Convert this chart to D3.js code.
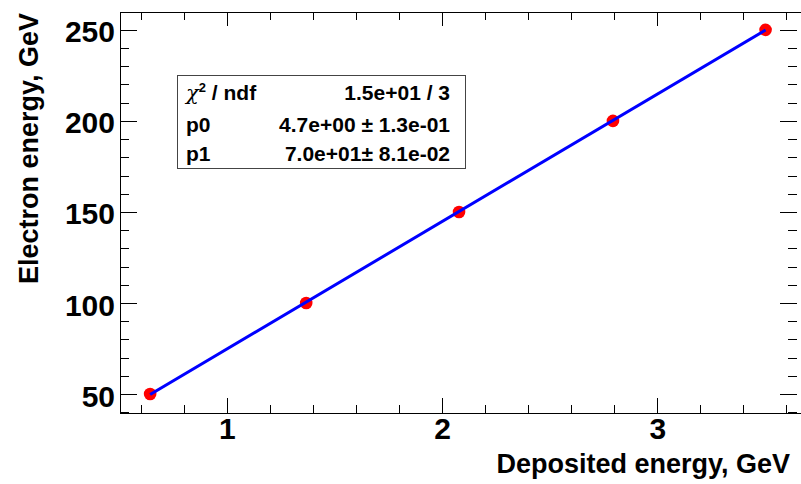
<!DOCTYPE html>
<html>
<head>
<meta charset="utf-8">
<script src="https://cdn.jsdelivr.net/npm/d3@7"></script>
<style>
  body { margin: 0; background: #fff; }
  svg { display: block; font-family: "Liberation Sans", Arial, sans-serif; font-weight: bold; }
</style>
</head>
<body>
<div id="chart"></div>
<script>
// measured points: deposited energy (GeV) vs electron energy (GeV)
const depositedEnergy = [0.644, 1.369, 2.079, 2.794, 3.503]
const electronEnergy = [50, 100, 150, 200, 250]

// fit pol1 parameters
const fitP0 = 4.7
const fitP1 = 70.0

const statsRows = [
  { name: "ndf", value: "1.5e+01 / 3" },
  { name: "p0", value: "4.7e+00 \u00b1 1.3e-01" },
  { name: "p1", value: "7.0e+01\u00b1 8.1e-02" }
]

const xMajor = [1, 2, 3]
const xMinor = d3.range(0.6, 3.61, 0.2)
const yMajor = [50, 100, 150, 200, 250]
const yMinor = d3.range(40, 261, 10)

const WIDTH = 801
const HEIGHT = 484
const margin = { top: 12, right: 4, bottom: 71, left: 120 }

const drawChart = () => {
  const svg = d3
    .select("#chart")
    .append("svg")
      .attr("width", WIDTH)
      .attr("height", HEIGHT)

  const x = d3.scaleLinear()
    .domain([0.504, 3.649])
    .range([margin.left, WIDTH - margin.right])

  const y = d3.scaleLinear()
    .domain([39.6, 259.8])
    .range([HEIGHT - margin.bottom, margin.top])

  const bottom = HEIGHT - margin.bottom
  const right = WIDTH - margin.right

  // frame lines
  const frame = svg.append("g")
    .attr("stroke", "#000")
    .attr("stroke-width", 1)
    .attr("shape-rendering", "crispEdges")
  frame.append("line")
    .attr("x1", margin.left).attr("x2", WIDTH)
    .attr("y1", bottom + 0.5).attr("y2", bottom + 0.5)
  frame.append("line")
    .attr("x1", margin.left).attr("x2", WIDTH)
    .attr("y1", margin.top + 0.5).attr("y2", margin.top + 0.5)
  frame.append("line")
    .attr("x1", margin.left + 0.5).attr("x2", margin.left + 0.5)
    .attr("y1", margin.top).attr("y2", bottom)

  const styleAxis = (g) => {
    g.select(".domain").remove()
    g.selectAll("line").attr("stroke", "#000").attr("shape-rendering", "crispEdges")
    g.selectAll("text")
      .attr("fill", "#000")
      .style("font-size", "30px")
      .style("font-weight", "bold")
      .style("font-family", '"Liberation Sans", Arial, sans-serif')
  }

  // bottom axis
  svg.append("g")
    .attr("transform", `translate(0,${bottom})`)
    .call(d3.axisBottom(x).tickValues(xMinor).tickSize(-8).tickFormat(""))
    .call(styleAxis)
  svg.append("g")
    .attr("transform", `translate(0,${bottom})`)
    .call(d3.axisBottom(x).tickValues(xMajor).tickSize(-15).tickPadding(5).tickFormat(d3.format("d")))
    .call(styleAxis)

  // top axis ticks
  svg.append("g")
    .attr("transform", `translate(0,${margin.top})`)
    .call(d3.axisTop(x).tickValues(xMinor).tickSize(-8).tickFormat(""))
    .call(styleAxis)
  svg.append("g")
    .attr("transform", `translate(0,${margin.top})`)
    .call(d3.axisTop(x).tickValues(xMajor).tickSize(-14).tickFormat(""))
    .call(styleAxis)

  // left axis
  svg.append("g")
    .attr("transform", `translate(${margin.left},0)`)
    .call(d3.axisLeft(y).tickValues(yMinor).tickSize(-8.5).tickFormat(""))
    .call(styleAxis)
  svg.append("g")
    .attr("transform", `translate(${margin.left},0)`)
    .call(d3.axisLeft(y).tickValues(yMajor).tickSize(-17).tickPadding(5).tickFormat(d3.format("d")))
    .call(styleAxis)
    .call((g) => g.selectAll("text").attr("dy", "0.4em"))

  // right axis ticks
  svg.append("g")
    .attr("transform", `translate(${right},0)`)
    .call(d3.axisRight(y).tickValues(yMinor).tickSize(-9).tickFormat(""))
    .call(styleAxis)
  svg.append("g")
    .attr("transform", `translate(${right},0)`)
    .call(d3.axisRight(y).tickValues(yMajor).tickSize(-17).tickFormat(""))
    .call(styleAxis)

  // axis titles
  svg.append("text")
    .attr("x", 790)
    .attr("y", 473)
    .attr("text-anchor", "end")
    .style("font-size", "27px")
    .text("Deposited energy, GeV")

  svg.append("text")
    .attr("transform", "translate(38,13) rotate(-90)")
    .attr("text-anchor", "end")
    .style("font-size", "27px")
    .text("Electron energy, GeV")

  const points = depositedEnergy.map((d, i) => ({ x: d, y: electronEnergy[i] }))

  // markers
  svg.append("g")
    .attr("fill", "#ff0000")
    .selectAll("circle")
    .data(points)
    .join("circle")
      .attr("cx", (d) => x(d.x))
      .attr("cy", (d) => y(d.y))
      .attr("r", 6.3)

  // fit line over the data range
  const fitRange = d3.extent(depositedEnergy)
  svg.append("path")
    .datum(fitRange)
    .attr("fill", "none")
    .attr("stroke", "#0000ff")
    .attr("stroke-width", 3)
    .attr("d", d3.line()
      .x((d) => x(d))
      .y((d) => y(fitP0 + fitP1 * d)))

  // stats box
  const box = svg.append("g")
  box.append("rect")
    .attr("x", 177.5)
    .attr("y", 75.5)
    .attr("width", 288)
    .attr("height", 93)
    .attr("fill", "#fff")
    .attr("stroke", "#444")
    .attr("stroke-width", 1)

  const rowBaseline = [100, 132, 161]
  statsRows.forEach((row, i) => {
    const label = box.append("text")
      .attr("x", 186)
      .attr("y", rowBaseline[i])
      .style("font-size", "21px")
    if (i === 0) {
      label.append("tspan")
        .style("font-family", '"DejaVu Serif", serif')
        .style("font-style", "italic")
        .style("font-weight", "normal")
        .text("\u03c7")
      label.append("tspan")
        .attr("dy", -8)
        .style("font-size", "13px")
        .text("2")
      label.append("tspan")
        .attr("dy", 8)
        .text(" / " + row.name)
    } else {
      label.text(row.name)
    }
    box.append("text")
      .attr("x", 450)
      .attr("y", rowBaseline[i])
      .attr("text-anchor", "end")
      .style("font-size", "21px")
      .text(row.value)
  })
}

drawChart()
</script>
</body>
</html>
